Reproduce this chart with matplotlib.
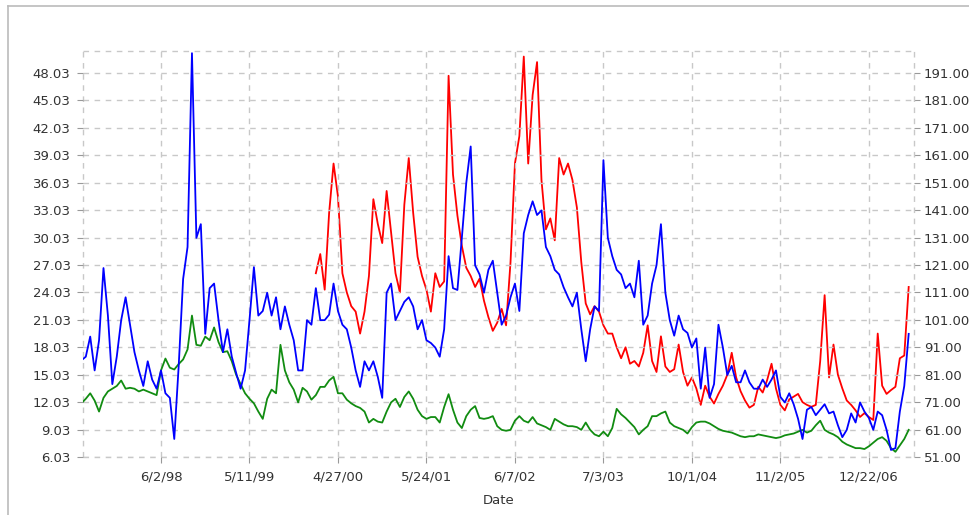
import matplotlib
matplotlib.use("Agg")
import matplotlib.pyplot as plt
import numpy as np
from matplotlib.lines import Line2D

# ---------------- data ----------------
tick_labels = ["6/2/98", "5/11/99", "4/27/00", "5/24/01", "6/7/02",
               "7/3/03", "10/1/04", "11/2/05", "12/22/06"]
tick_index = [18, 38, 58, 78, 98, 118, 138, 158, 178]

blue_values = [
    16.6, 17.0, 19.2, 15.5, 18.8, 26.7, 21.5, 14.0, 17.0, 21.0,
    23.5, 20.5, 17.5, 15.5, 13.8, 16.5, 14.5, 13.5, 15.5, 13.0,
    12.5, 8.0, 16.0, 25.5, 29.0, 50.2, 30.0, 31.5, 19.5, 24.5,
    25.0, 21.0, 17.5, 20.0, 17.0, 15.2, 13.5, 15.5, 21.0, 26.8,
    21.5, 22.0, 24.0, 21.5, 23.5, 20.0, 22.5, 20.5, 18.8, 15.5,
    15.5, 21.0, 20.5, 24.5, 21.0, 21.0, 21.6, 25.0, 22.0, 20.5,
    20.0, 18.0, 15.5, 13.7, 16.5, 15.5, 16.5, 14.8, 12.5, 24.0,
    25.0, 21.0, 22.0, 23.0, 23.5, 22.5, 20.0, 21.0, 18.8, 18.5,
    18.0, 17.0, 20.0, 28.0, 24.5, 24.3, 30.0, 36.0, 40.0, 27.0,
    26.0, 24.0, 26.5, 27.5, 24.0, 20.5, 21.5, 23.5, 25.0, 22.0,
    30.5, 32.5, 34.0, 32.5, 33.0, 29.0, 28.0, 26.5, 26.0, 24.6,
    23.5, 22.5, 24.0, 20.0, 16.5, 20.0, 22.5, 22.0, 38.5, 30.0,
    28.0, 26.5, 26.0, 24.5, 25.0, 23.5, 27.5, 20.5, 21.5, 25.0,
    27.0, 31.5, 24.0, 21.0, 19.3, 21.5, 20.0, 19.6, 18.0, 19.0,
    13.5, 18.0, 12.5, 14.0, 20.5, 18.0, 15.0, 16.0, 14.2, 14.2,
    15.5, 14.2, 13.5, 13.5, 14.5, 13.7, 14.5, 15.5, 12.6, 12.0,
    13.0, 11.8, 10.2, 8.0, 11.2, 11.5, 10.6, 11.2, 11.8, 10.8,
    11.0, 9.5, 8.2, 9.0, 10.8, 9.8, 12.0, 11.0, 10.3, 9.0,
    11.0, 10.6, 9.0, 6.8, 7.0, 11.0, 13.8, 19.5,
]

green_values = [
    11.9, 12.4, 13.0, 12.2, 11.0, 12.5, 13.2, 13.5, 13.8, 14.4,
    13.5, 13.6, 13.5, 13.2, 13.4, 13.2, 13.0, 12.8, 15.5, 16.8,
    15.8, 15.6, 16.2, 16.7, 17.8, 21.5, 18.3, 18.2, 19.2, 18.8,
    20.2, 18.6, 17.5, 17.6, 16.5, 15.0, 14.0, 13.0, 12.4, 11.9,
    11.0, 10.2, 12.4, 13.4, 13.0, 18.3, 15.5, 14.2, 13.4, 12.0,
    13.6, 13.2, 12.3, 12.8, 13.7, 13.7, 14.4, 14.8, 13.0, 13.0,
    12.3, 11.9, 11.6, 11.4, 11.0, 9.8, 10.2, 9.9, 9.8, 11.0,
    12.0, 12.4, 11.5, 12.6, 13.2, 12.4, 11.2, 10.5, 10.2, 10.4,
    10.4, 9.8, 11.5, 12.9, 11.2, 9.8, 9.2, 10.5, 11.2, 11.6,
    10.3, 10.2, 10.3, 10.5, 9.4, 9.0, 8.9, 9.0, 10.0, 10.5,
    10.0, 9.8, 10.4, 9.7, 9.5, 9.3, 9.0, 10.2, 9.9, 9.6,
    9.4, 9.4, 9.3, 9.0, 9.8, 9.0, 8.5, 8.3, 8.8, 8.3,
    9.2, 11.3, 10.7, 10.3, 9.8, 9.3, 8.5, 9.0, 9.4, 10.5,
    10.5, 10.8, 11.0, 9.8, 9.4, 9.2, 9.0, 8.6, 9.3, 9.8,
    9.9, 9.9, 9.7, 9.4, 9.1, 8.9, 8.8, 8.7, 8.5, 8.3,
    8.2, 8.3, 8.3, 8.5, 8.4, 8.3, 8.2, 8.1, 8.2, 8.4,
    8.5, 8.6, 8.8, 9.0, 8.7, 8.9, 9.5, 10.0, 9.0, 8.7,
    8.5, 8.2, 7.7, 7.4, 7.2, 7.0, 7.0, 6.9, 7.2, 7.6,
    8.0, 8.2, 7.8, 7.0, 6.6, 7.3, 8.0, 9.0,
]

red_start = 53
red_values = [
    118, 125, 112, 140, 158, 146, 118,
    111, 106, 104, 96, 104, 117, 145, 136, 129, 148,
    133, 118, 111, 143, 160, 140, 124, 117, 112, 104,
    118, 113, 115, 190, 154, 139, 128, 120, 117, 113,
    116, 108, 102, 97, 100, 105, 99, 122, 158, 168,
    197, 158, 183, 195, 152, 134, 138, 130, 160, 154,
    158, 152, 142, 122, 107, 103, 106, 104, 99, 96,
    96, 91, 87, 91, 85, 86, 84, 89, 99, 86,
    82, 95, 84, 82, 83, 92, 82, 77, 80, 76,
    70, 77, 73, 70.5, 74, 77, 81, 89, 80, 75,
    71.6, 69, 70, 76.6, 74.5, 79, 85, 76, 70, 68,
    72, 73, 74, 71, 70, 69.3, 70, 86, 110, 80,
    92, 81, 76, 71.6, 70, 68, 65.6, 67, 65.6, 64.5,
    96, 77, 74, 75.4, 76.6, 87, 88, 113,
]

left_ticks = [6.03 + 3 * k for k in range(15)]
right_ticks = [51 + 10 * k for k in range(15)]

# ---------------- figure ----------------
W, H = 969, 515
fig = plt.figure(figsize=(W / 100, H / 100), dpi=100)
fig.patch.set_facecolor("white")

L, R, T, B = 83, 914, 51, 457
ax = fig.add_axes([L / W, 1 - B / H, (R - L) / W, (B - T) / H])
ax2 = ax.twinx()

grid_col = "#c8c8c8"
text_col = "#333333"
font = "DejaVu Sans"
fs = 9.5

x_all = np.arange(len(blue_values))
x_red = np.arange(red_start, red_start + len(red_values))

ax.plot(x_all, green_values, color="#118c11", lw=1.3, zorder=3)
ax2.plot(x_red, red_values, color="#ff0000", lw=1.3, zorder=3)
ax.plot(x_all, blue_values, color="#0000ff", lw=1.3, zorder=4)

ax.set_zorder(ax2.get_zorder() + 1)
ax.patch.set_visible(False)

ylo, yhi = 6.03, 50.44
ax.set_ylim(ylo, yhi)
ax2.set_ylim(51 + (ylo - 6.03) * 10 / 3, 51 + (yhi - 6.03) * 10 / 3)
ax.set_xlim(0.37, 188.2)

ax.set_yticks(left_ticks)
ax.set_yticklabels([f"{v:.2f}" for v in left_ticks])
ax2.set_yticks(right_ticks)
ax2.set_yticklabels([f"{v:.2f}" for v in right_ticks])
ax.set_xticks(tick_index)
ax.set_xticklabels(tick_labels)

for a in (ax, ax2):
    for s in a.spines.values():
        s.set_visible(False)

ax.grid(True, color=grid_col, linestyle=(0, (4, 4)), linewidth=1.0, zorder=0)
ax2.grid(False)

# dashed frame around the plot area
for xs, ys in [((0, 1), (1, 1)), ((0, 1), (0, 0)), ((0, 0), (0, 1)), ((1, 1), (0, 1))]:
    ax.add_line(Line2D(xs, ys, transform=ax.transAxes, color=grid_col,
                       linestyle=(0, (4, 4)), linewidth=1.0, zorder=1, clip_on=False))

ax.tick_params(axis="y", length=4, width=0.8, color="#999999", pad=5,
               labelsize=fs, labelcolor=text_col)
ax.tick_params(axis="x", length=4, width=0.8, color="#999999", pad=6,
               labelsize=fs, labelcolor=text_col)
ax2.tick_params(axis="y", length=4, width=0.8, color="#999999", pad=3,
                labelsize=fs, labelcolor=text_col)
for lab in ax.get_xticklabels() + ax.get_yticklabels() + ax2.get_yticklabels():
    lab.set_fontfamily(font)

ax.set_xlabel("Date", fontsize=fs, color=text_col, family=font, labelpad=7)

# outer light frame of the chart image
fig.add_artist(Line2D([8 / W, 1.0], [1 - 6 / H, 1 - 6 / H], transform=fig.transFigure,
                      color="#bbbbbb", lw=1.2))
fig.add_artist(Line2D([8 / W, 8 / W], [0.0, 1 - 6 / H], transform=fig.transFigure,
                      color="#bbbbbb", lw=1.2))

fig.savefig("out.png", dpi=100)
